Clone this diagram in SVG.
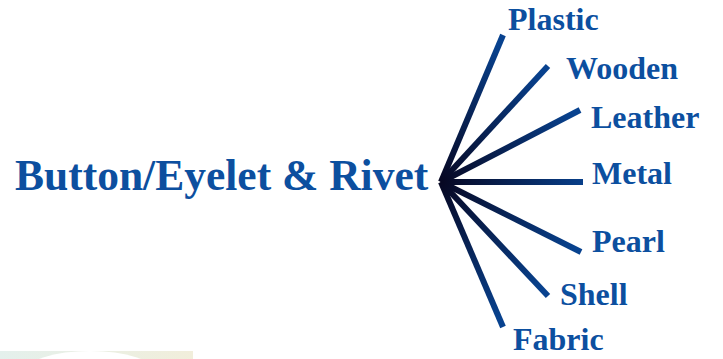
<svg xmlns="http://www.w3.org/2000/svg" width="723" height="359" viewBox="0 0 723 359">
  <defs>
    <radialGradient id="lineGrad" gradientUnits="userSpaceOnUse" cx="441" cy="182" r="150">
      <stop offset="0" stop-color="#070722"/>
      <stop offset="1" stop-color="#08428f"/>
    </radialGradient>
    <linearGradient id="bandGrad" x1="0" y1="0" x2="1" y2="0">
      <stop offset="0" stop-color="#e4f0ec"/>
      <stop offset="1" stop-color="#f1eedb"/>
    </linearGradient>
  </defs>
  <style>
    .lbl { font-family: "Liberation Serif", "Times New Roman", serif; font-weight: bold; fill: #0c4f9f; font-size: 32px; }
    .main { font-size: 43.5px; }
    .conn line { stroke: url(#lineGrad); stroke-width: 6; stroke-linecap: butt; }
  </style>
  <rect width="723" height="359" fill="#ffffff"/>
  <g id="decoration">
    <rect x="0" y="351" width="193" height="8" fill="url(#bandGrad)"/>
    <ellipse cx="90" cy="372" rx="65" ry="21" fill="#ffffff"/>
  </g>
  <g id="connectors" class="conn">
    <line x1="441" y1="182" x2="503" y2="35"/>
    <line x1="441" y1="182" x2="548" y2="66"/>
    <line x1="441" y1="182" x2="580" y2="110"/>
    <line x1="441" y1="182" x2="583" y2="182"/>
    <line x1="441" y1="182" x2="581" y2="252"/>
    <line x1="441" y1="182" x2="548" y2="296"/>
    <line x1="441" y1="182" x2="503" y2="327"/>
  </g>
  <g id="node-main"><text class="lbl main" x="15" y="190">Button/Eyelet &amp; Rivet</text></g>
  <g id="node-plastic"><text class="lbl" x="508" y="30">Plastic</text></g>
  <g id="node-wooden"><text class="lbl" x="566" y="79">Wooden</text></g>
  <g id="node-leather"><text class="lbl" x="591" y="128">Leather</text></g>
  <g id="node-metal"><text class="lbl" x="592" y="184">Metal</text></g>
  <g id="node-pearl"><text class="lbl" x="592" y="252">Pearl</text></g>
  <g id="node-shell"><text class="lbl" x="560" y="305">Shell</text></g>
  <g id="node-fabric"><text class="lbl" x="513" y="350">Fabric</text></g>
</svg>
